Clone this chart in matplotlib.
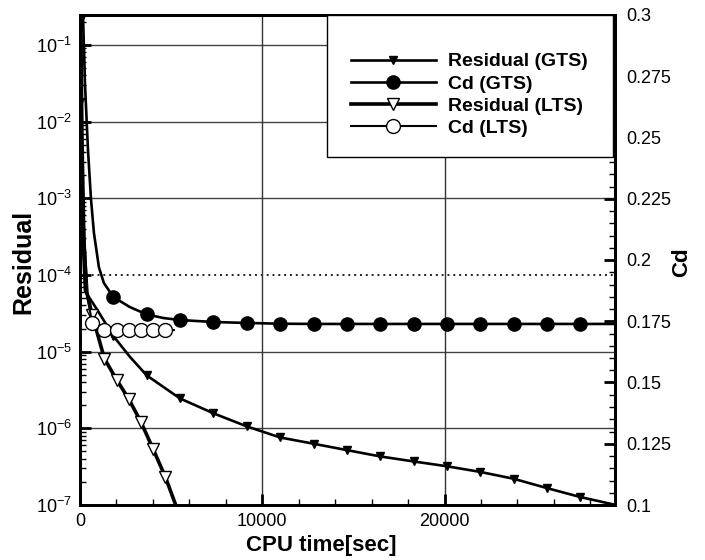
import numpy as np
import matplotlib
matplotlib.use('Agg')
import matplotlib.pyplot as plt
from matplotlib.ticker import LogLocator, MultipleLocator, FuncFormatter, NullFormatter, FixedLocator
from matplotlib.patches import Rectangle

plt.rcParams['font.family'] = ['Liberation Sans', 'DejaVu Sans']
plt.rcParams['mathtext.fontset'] = 'custom'
plt.rcParams['mathtext.rm'] = 'Liberation Sans'
plt.rcParams['mathtext.it'] = 'Liberation Sans'
plt.rcParams['mathtext.bf'] = 'Liberation Sans:bold'

# --- data ---
# global time stepping (GTS)
gts_res_t = [0, 30, 100, 273, 984, 1830, 2732, 3660, 5490, 7320, 9150, 10980,
             12810, 14640, 16470, 18300, 20130, 21960, 23790, 25620, 27450, 29400]
gts_res = [1.8e-2, 3e-3, 5e-4, 6.2e-5, 3.4e-5, 1.6e-5, 8.6e-6, 4.9e-6, 2.45e-6,
           1.57e-6, 1.06e-6, 7.6e-7, 6.3e-7, 5.2e-7, 4.3e-7, 3.7e-7, 3.2e-7,
           2.7e-7, 2.2e-7, 1.66e-7, 1.27e-7, 1.0e-7]
gts_cd_t = [0, 164, 273, 437, 601, 765, 1038, 1311, 1830, 2732, 3660, 4590, 5490,
            7320, 9150, 10980, 12810, 14640, 16470, 18300, 20130, 21960, 23790,
            25620, 27450, 29400]
gts_cd = [0.42, 0.300, 0.272, 0.245, 0.225, 0.211, 0.197, 0.1906, 0.1849, 0.1808,
          0.1778, 0.1763, 0.1755, 0.1747, 0.1743, 0.1740, 0.1739, 0.1739, 0.1739,
          0.1739, 0.1739, 0.1739, 0.1739, 0.1739, 0.1739, 0.1739]
gts_marks = [0, 1830, 3660, 5490, 7320, 9150, 10980, 12810, 14640, 16470, 18300,
             20130, 21960, 23790, 25620, 27450]

# local time stepping (LTS)
lts_res_t = [0, 40, 100, 200, 380, 670, 1340, 2010, 2680, 3350, 4020, 4690, 5250]
lts_res = [0.22, 2e-2, 2e-3, 3e-4, 5.8e-5, 3.0e-5, 8.1e-6, 4.3e-6, 2.4e-6, 1.2e-6,
           5.3e-7, 2.3e-7, 1.0e-7]
lts_cd_t = [0, 80, 150, 250, 400, 670, 1340, 2010, 2680, 3350, 4020, 4690, 5150]
lts_cd = [0.42, 0.30, 0.25, 0.21, 0.185, 0.1743, 0.1714, 0.1714, 0.1714, 0.1714,
          0.1714, 0.1714, 0.1714]
lts_marks = [0, 670, 1340, 2010, 2680, 3350, 4020, 4690]

labels = ['Residual (GTS)', 'Cd (GTS)', 'Residual (LTS)', 'Cd (LTS)']
res_decades = [-7, -6, -5, -4, -3, -2, -1]
time_ticks = [0, 10000, 20000]


def mark_idx(t, marks):
    return list(np.nonzero(np.isin(t, marks))[0])


fig = plt.figure(figsize=(7.05, 5.6), dpi=100)
ax = fig.add_axes([80 / 705, 1 - 505 / 560, 535 / 705, 490 / 560])
ax2 = ax.twinx()

# grid (drawn by hand so the 1e-4 line can be dotted as in the original)
for e in res_decades[1:]:
    if e == -4:
        ax.axhline(10.0 ** e, color='#222222', lw=1.4, ls=(0, (1, 2)), zorder=0)
    else:
        ax.axhline(10.0 ** e, color='#444444', lw=1.0, zorder=0)
for xv in time_ticks[1:]:
    ax.axvline(xv, color='#333333', lw=1.0, zorder=0)

l1, = ax.plot(gts_res_t, gts_res, color='black', lw=1.9, marker='v', ms=6,
              mfc='black', mec='black', markevery=mark_idx(gts_res_t, gts_marks),
              zorder=3)
l3, = ax.plot(lts_res_t, lts_res, color='black', lw=2.6, marker='v', ms=8.5,
              mfc='white', mec='black', mew=1.0,
              markevery=mark_idx(lts_res_t, lts_marks), zorder=4)
l2, = ax2.plot(gts_cd_t, gts_cd, color='black', lw=1.9, marker='o', ms=9.5,
               mfc='black', mec='black', markevery=mark_idx(gts_cd_t, gts_marks),
               zorder=3)
l4, = ax2.plot(lts_cd_t, lts_cd, color='black', lw=1.5, marker='o', ms=10,
               mfc='white', mec='black', mew=1.0,
               markevery=mark_idx(lts_cd_t, lts_marks), zorder=4)

# axes ranges and ticks
ax.set_xlim(0, 29350)
ax.set_yscale('log')
ax.set_ylim(1e-7, 0.246)
ax2.set_ylim(0.1, 0.3)

ax.xaxis.set_major_locator(FixedLocator(time_ticks))
ax.xaxis.set_minor_locator(MultipleLocator(2000))
ax.yaxis.set_major_locator(FixedLocator([10.0 ** e for e in res_decades]))
ax.yaxis.set_minor_locator(LogLocator(base=10, subs=np.arange(2, 10), numticks=20))
ax.yaxis.set_minor_formatter(NullFormatter())
ax.yaxis.set_major_formatter(FuncFormatter(lambda v, p: r'$10^{%d}$' % round(np.log10(v))))
ax2.yaxis.set_major_locator(MultipleLocator(0.025))
ax2.yaxis.set_minor_locator(MultipleLocator(0.005))
ax2.yaxis.set_major_formatter(FuncFormatter(lambda v, p: '%g' % round(v, 3)))

ax.tick_params(which='both', direction='in', top=False, right=False)
ax.tick_params(which='major', length=8, width=2, labelsize=13, pad=6)
ax.tick_params(which='minor', length=4, width=1)
ax2.tick_params(which='both', direction='in')
ax2.tick_params(which='major', length=8, width=2, labelsize=13, pad=8)
ax2.tick_params(which='minor', length=4, width=1)

for a in (ax, ax2):
    for s in a.spines.values():
        s.set_linewidth(2)

ax.set_xlabel('CPU time[sec]', fontsize=16, fontweight='bold')
ax.xaxis.label.set_va('center')
ax.xaxis.set_label_coords((321 - 80) / 535, -(546 - 505) / 490)
ax.set_ylabel('Residual', fontsize=18, fontweight='bold')
ax.yaxis.label.set_va('center')
ax.yaxis.set_label_coords(-(80 - 23) / 535, (505 - 262) / 490)
ax2.set_ylabel('Cd', fontsize=16, fontweight='bold', rotation=90)
ax2.yaxis.label.set_va('center')
ax2.yaxis.set_label_coords((682 - 80) / 535, (505 - 262) / 490)

# legend box
box = Rectangle((247 / 535, 348 / 490), 286 / 535, 142 / 490, transform=ax2.transAxes,
                facecolor='white', edgecolor='black', lw=1.0, zorder=10)
ax2.add_patch(box)
leg = ax2.legend([l1, l2, l3, l4], labels, loc='center',
                 bbox_to_anchor=((469 - 80) / 535, (505 - 95) / 490), frameon=False,
                 prop={'weight': 'bold', 'size': 14}, handlelength=4.4,
                 handletextpad=0.6, labelspacing=0.24, numpoints=1,
                 borderpad=0, borderaxespad=0)
leg.set_zorder(11)

fig.savefig('out.png', dpi=100)
